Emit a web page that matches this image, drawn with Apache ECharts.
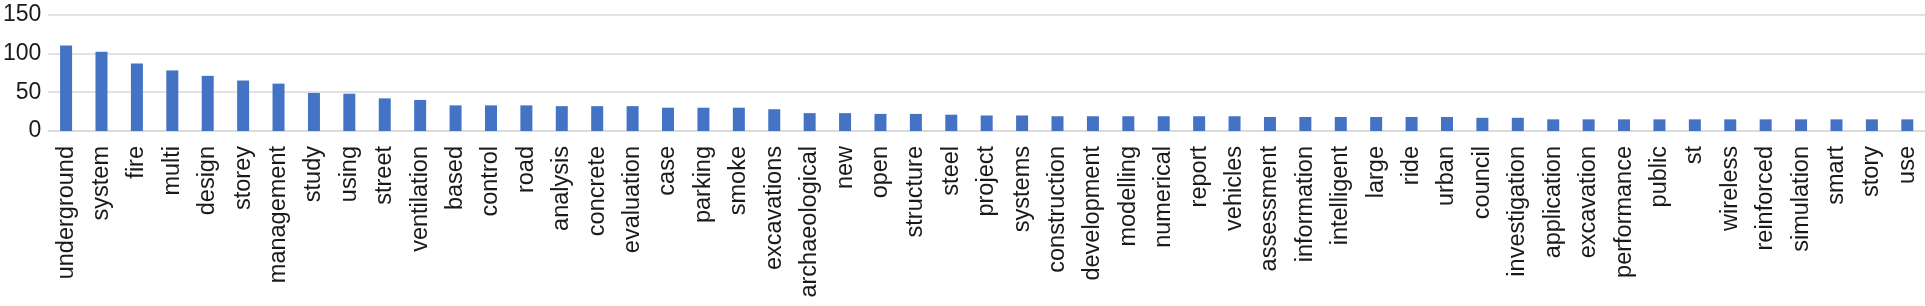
<!DOCTYPE html>
<html>
<head>
<meta charset="utf-8">
<script src="https://cdn.jsdelivr.net/npm/echarts@6/dist/echarts.min.js"></script>
<style>html,body{margin:0;padding:0;background:#fff;}#c{width:1925px;height:306px;}</style>
</head>
<body>
<div id="c"></div>
<script>
const categories = ["underground","system","fire","multi","design","storey","management","study","using","street","ventilation","based","control","road","analysis","concrete","evaluation","case","parking","smoke","excavations","archaeological","new","open","structure","steel","project","systems","construction","development","modelling","numerical","report","vehicles","assessment","information","intelligent","large","ride","urban","council","investigation","application","excavation","performance","public","st","wireless","reinforced","simulation","smart","story","use"];
const counts = [110,102,87,78,71,65,61,49,48,42,40,33,33,33,32,32,32,30,30,30,28,23,23,22,22,21,20,20,19,19,19,19,19,19,18,18,18,18,18,18,17,17,15,15,15,15,15,15,15,15,15,15,15];
const yTicks = {min: 0, max: 150, interval: 50};

const chart = echarts.init(document.getElementById('c'), null, {renderer: 'canvas'});
chart.setOption({
  animation: false,
  backgroundColor: '#ffffff',
  grid: {left: 47, right: 0, top: 14.5, bottom: 175},
  xAxis: {
    type: 'category',
    data: categories,
    axisTick: {show: false},
    axisLine: {lineStyle: {color: '#d9d9d9', width: 1.5}},
    axisLabel: {
      interval: 0, rotate: 90, margin: 15,
      fontSize: 23.5, fontFamily: 'Liberation Sans, Arial, sans-serif', color: '#1a1a1a'
    }
  },
  yAxis: {
    type: 'value',
    min: yTicks.min, max: yTicks.max, interval: yTicks.interval,
    axisLine: {show: false},
    axisTick: {show: false},
    splitLine: {lineStyle: {color: '#d9d9d9', width: 1.5}},
    axisLabel: {
      margin: 7, fontSize: 23, fontFamily: 'Liberation Sans, Arial, sans-serif', color: '#1a1a1a'
    }
  },
  series: [{
    type: 'bar',
    data: counts,
    barWidth: 12,
    itemStyle: {color: '#4472C4'}
  }]
});
</script>
</body>
</html>
